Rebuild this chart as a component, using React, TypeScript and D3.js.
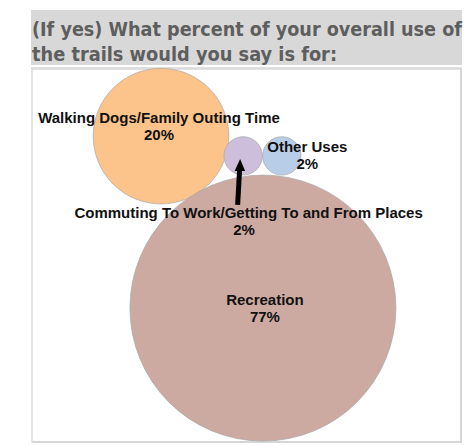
import React from "react";
import * as d3 from "d3";

const titleLines = ["(If yes) What percent of your overall use of", "the trails would you say is for:"];
const categories = [
  "Walking Dogs/Family Outing Time",
  "Commuting To Work/Getting To and From Places",
  "Other Uses",
  "Recreation",
];
const shares = [20, 1.6, 1.6, 77];
const xValues = [30, 49.1, 58.1, 53.7];
const yValues = [82, 76.7, 76.7, 35.9];
const colors = ["#FCC38B", "#CDBEDB", "#B8CDE8", "#CDAAA1"];

const W = 475;
const H = 445;

export default function App() {
  const frame = { x0: 32, x1: 462, y0: 69, y1: 442 };
  const x = d3.scaleLinear().domain([0, 100]).range([frame.x0, frame.x1]);
  const y = d3.scaleLinear().domain([0, 100]).range([frame.y1, frame.y0]);
  const r = d3.scaleSqrt().domain([0, 77]).range([0, 133]);
  const pct = (v: number) => `${Math.round(v)}%`;

  // label offsets relative to bubble centers (px)
  const labelPos = [
    { dx: -2, dy: -13 },
    { dx: 5.5, dy: 62 },
    { dx: 25.5, dy: -4 },
    { dx: 2, dy: -3 },
  ];

  const cx = categories.map((_, i) => x(xValues[i]));
  const cy = categories.map((_, i) => y(yValues[i]));

  const ax = cx[1];
  const ay = cy[1];

  return (
    <svg width={W} height={H} style={{ position: "absolute", left: 0, top: 0 }}>
      <rect x={0} y={0} width={W} height={H} fill="#ffffff" />
      <rect x={31} y={10} width={431} height={55} fill="#D8D8D8" />
      {titleLines.map((t, i) => (
        <text
          key={i}
          x={32}
          y={36 + i * 25}
          fontFamily="'DejaVu Sans Condensed', 'DejaVu Sans', sans-serif"
          fontWeight="bold"
          fontSize={19.5}
          fill="#5E5E5E"
          textLength={i === 0 ? 430 : 305}
          lengthAdjust="spacingAndGlyphs"
        >
          {t}
        </text>
      ))}
      <rect x={31} y={67} width={431} height={2} fill="#E0E0E0" />
      <rect
        x={frame.x0}
        y={frame.y0}
        width={frame.x1 - frame.x0 - 1}
        height={frame.y1 - frame.y0}
        fill="#ffffff"
        stroke="#DADADA"
        strokeWidth={1.5}
      />
      <line x1={frame.x1 - 1} y1={frame.y0} x2={frame.x1 - 1} y2={frame.y1} stroke="#D6D6D6" strokeWidth={2} />
      <line x1={frame.x0} y1={frame.y1} x2={frame.x1} y2={frame.y1} stroke="#D6D6D6" strokeWidth={2} />
      {categories.map((c, i) => (
        <circle key={c} cx={cx[i]} cy={cy[i]} r={r(shares[i])} fill={colors[i]} stroke="#A8A8A8" strokeWidth={0.7} />
      ))}
      <line x1={ax - 5.5} y1={ay + 49} x2={ax - 3.5} y2={ay + 13} stroke="#000" strokeWidth={5} />
      <polygon points={`${ax - 3},${ay + 3} ${ax - 8.5},${ay + 15} ${ax + 2},${ay + 15}`} fill="#000" />
      {categories.map((c, i) => (
        <text
          key={c + "l"}
          x={cx[i] + labelPos[i].dx}
          y={cy[i] + labelPos[i].dy}
          textAnchor="middle"
          fontFamily="'Liberation Sans', Arial, sans-serif"
          fontWeight="bold"
          fontSize={15}
          fill="#111"
        >
          <tspan x={cx[i] + labelPos[i].dx} dy={0}>{c}</tspan>
          <tspan x={cx[i] + labelPos[i].dx - (i === 1 ? 4.5 : 0)} dy={17}>{pct(shares[i])}</tspan>
        </text>
      ))}
    </svg>
  );
}
